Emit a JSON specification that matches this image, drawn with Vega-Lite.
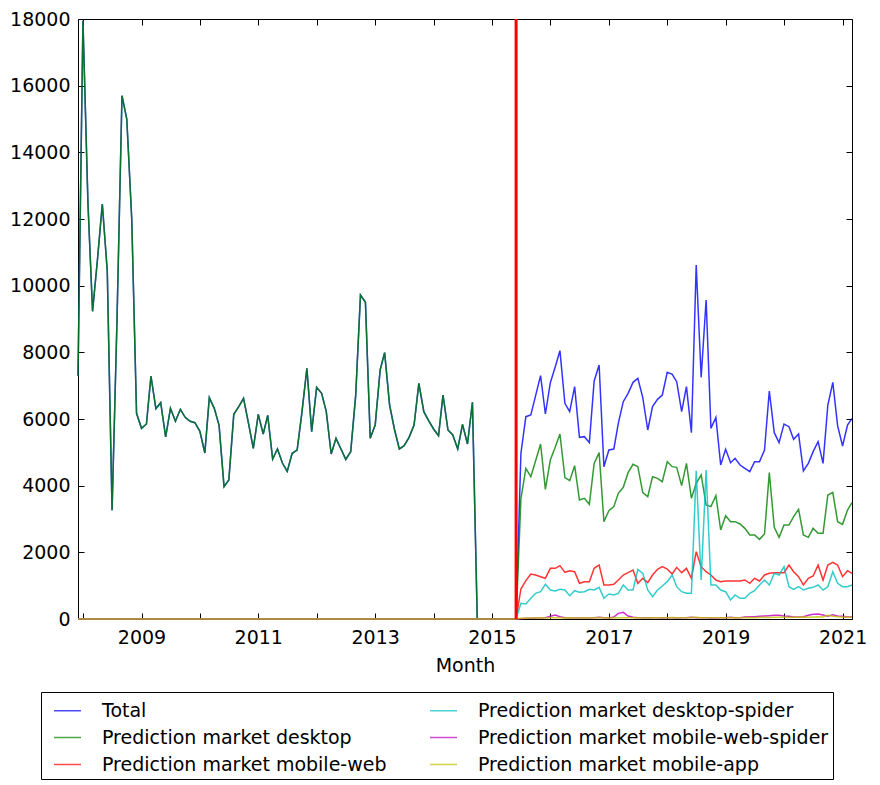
{
  "$schema": "https://vega.github.io/schema/vega-lite/v6.json",
  "width": 774,
  "height": 600,
  "autosize": "none",
  "padding": {"left": 78, "top": 19, "right": 28, "bottom": 166},
  "config": {
    "font": "DejaVu Sans",
    "view": {"stroke": "black", "strokeWidth": 1},
    "axis": {
      "domain": false,
      "grid": false,
      "tickColor": "black",
      "tickSize": -6,
      "labelColor": "black",
      "labelFontSize": 19,
      "titleFontSize": 19,
      "titleFontWeight": "normal",
      "titleColor": "black"
    }
  },
  "datasets": {
    "views": [
      {"m":"2007-12-01","t":7300,"d":7300,"w":0,"s":0,"ws":0,"a":0},
      {"m":"2008-01-01","t":17950,"d":17950,"w":0,"s":0,"ws":0,"a":0},
      {"m":"2008-02-01","t":12500,"d":12500,"w":0,"s":0,"ws":0,"a":0},
      {"m":"2008-03-01","t":9230,"d":9230,"w":0,"s":0,"ws":0,"a":0},
      {"m":"2008-04-01","t":10800,"d":10800,"w":0,"s":0,"ws":0,"a":0},
      {"m":"2008-05-01","t":12450,"d":12450,"w":0,"s":0,"ws":0,"a":0},
      {"m":"2008-06-01","t":10440,"d":10440,"w":0,"s":0,"ws":0,"a":0},
      {"m":"2008-07-01","t":3260,"d":3260,"w":0,"s":0,"ws":0,"a":0},
      {"m":"2008-08-01","t":9000,"d":9000,"w":0,"s":0,"ws":0,"a":0},
      {"m":"2008-09-01","t":15700,"d":15700,"w":0,"s":0,"ws":0,"a":0},
      {"m":"2008-10-01","t":15000,"d":15000,"w":0,"s":0,"ws":0,"a":0},
      {"m":"2008-11-01","t":12000,"d":12000,"w":0,"s":0,"ws":0,"a":0},
      {"m":"2008-12-01","t":6170,"d":6170,"w":0,"s":0,"ws":0,"a":0},
      {"m":"2009-01-01","t":5720,"d":5720,"w":0,"s":0,"ws":0,"a":0},
      {"m":"2009-02-01","t":5850,"d":5850,"w":0,"s":0,"ws":0,"a":0},
      {"m":"2009-03-01","t":7290,"d":7290,"w":0,"s":0,"ws":0,"a":0},
      {"m":"2009-04-01","t":6310,"d":6310,"w":0,"s":0,"ws":0,"a":0},
      {"m":"2009-05-01","t":6490,"d":6490,"w":0,"s":0,"ws":0,"a":0},
      {"m":"2009-06-01","t":5460,"d":5460,"w":0,"s":0,"ws":0,"a":0},
      {"m":"2009-07-01","t":6320,"d":6320,"w":0,"s":0,"ws":0,"a":0},
      {"m":"2009-08-01","t":5930,"d":5930,"w":0,"s":0,"ws":0,"a":0},
      {"m":"2009-09-01","t":6290,"d":6290,"w":0,"s":0,"ws":0,"a":0},
      {"m":"2009-10-01","t":6050,"d":6050,"w":0,"s":0,"ws":0,"a":0},
      {"m":"2009-11-01","t":5930,"d":5930,"w":0,"s":0,"ws":0,"a":0},
      {"m":"2009-12-01","t":5890,"d":5890,"w":0,"s":0,"ws":0,"a":0},
      {"m":"2010-01-01","t":5630,"d":5630,"w":0,"s":0,"ws":0,"a":0},
      {"m":"2010-02-01","t":4980,"d":4980,"w":0,"s":0,"ws":0,"a":0},
      {"m":"2010-03-01","t":6640,"d":6640,"w":0,"s":0,"ws":0,"a":0},
      {"m":"2010-04-01","t":6320,"d":6320,"w":0,"s":0,"ws":0,"a":0},
      {"m":"2010-05-01","t":5810,"d":5810,"w":0,"s":0,"ws":0,"a":0},
      {"m":"2010-06-01","t":3970,"d":3970,"w":0,"s":0,"ws":0,"a":0},
      {"m":"2010-07-01","t":4170,"d":4170,"w":0,"s":0,"ws":0,"a":0},
      {"m":"2010-08-01","t":6140,"d":6140,"w":0,"s":0,"ws":0,"a":0},
      {"m":"2010-09-01","t":6370,"d":6370,"w":0,"s":0,"ws":0,"a":0},
      {"m":"2010-10-01","t":6620,"d":6620,"w":0,"s":0,"ws":0,"a":0},
      {"m":"2010-11-01","t":5870,"d":5870,"w":0,"s":0,"ws":0,"a":0},
      {"m":"2010-12-01","t":5120,"d":5120,"w":0,"s":0,"ws":0,"a":0},
      {"m":"2011-01-01","t":6140,"d":6140,"w":0,"s":0,"ws":0,"a":0},
      {"m":"2011-02-01","t":5550,"d":5550,"w":0,"s":0,"ws":0,"a":0},
      {"m":"2011-03-01","t":6110,"d":6110,"w":0,"s":0,"ws":0,"a":0},
      {"m":"2011-04-01","t":4800,"d":4800,"w":0,"s":0,"ws":0,"a":0},
      {"m":"2011-05-01","t":5100,"d":5100,"w":0,"s":0,"ws":0,"a":0},
      {"m":"2011-06-01","t":4680,"d":4680,"w":0,"s":0,"ws":0,"a":0},
      {"m":"2011-07-01","t":4430,"d":4430,"w":0,"s":0,"ws":0,"a":0},
      {"m":"2011-08-01","t":4970,"d":4970,"w":0,"s":0,"ws":0,"a":0},
      {"m":"2011-09-01","t":5070,"d":5070,"w":0,"s":0,"ws":0,"a":0},
      {"m":"2011-10-01","t":6200,"d":6200,"w":0,"s":0,"ws":0,"a":0},
      {"m":"2011-11-01","t":7520,"d":7520,"w":0,"s":0,"ws":0,"a":0},
      {"m":"2011-12-01","t":5620,"d":5620,"w":0,"s":0,"ws":0,"a":0},
      {"m":"2012-01-01","t":6950,"d":6950,"w":0,"s":0,"ws":0,"a":0},
      {"m":"2012-02-01","t":6770,"d":6770,"w":0,"s":0,"ws":0,"a":0},
      {"m":"2012-03-01","t":6230,"d":6230,"w":0,"s":0,"ws":0,"a":0},
      {"m":"2012-04-01","t":4950,"d":4950,"w":0,"s":0,"ws":0,"a":0},
      {"m":"2012-05-01","t":5420,"d":5420,"w":0,"s":0,"ws":0,"a":0},
      {"m":"2012-06-01","t":5100,"d":5100,"w":0,"s":0,"ws":0,"a":0},
      {"m":"2012-07-01","t":4790,"d":4790,"w":0,"s":0,"ws":0,"a":0},
      {"m":"2012-08-01","t":5020,"d":5020,"w":0,"s":0,"ws":0,"a":0},
      {"m":"2012-09-01","t":6700,"d":6700,"w":0,"s":0,"ws":0,"a":0},
      {"m":"2012-10-01","t":9720,"d":9720,"w":0,"s":0,"ws":0,"a":0},
      {"m":"2012-11-01","t":9500,"d":9500,"w":0,"s":0,"ws":0,"a":0},
      {"m":"2012-12-01","t":5420,"d":5420,"w":0,"s":0,"ws":0,"a":0},
      {"m":"2013-01-01","t":5820,"d":5820,"w":0,"s":0,"ws":0,"a":0},
      {"m":"2013-02-01","t":7470,"d":7470,"w":0,"s":0,"ws":0,"a":0},
      {"m":"2013-03-01","t":7990,"d":7990,"w":0,"s":0,"ws":0,"a":0},
      {"m":"2013-04-01","t":6420,"d":6420,"w":0,"s":0,"ws":0,"a":0},
      {"m":"2013-05-01","t":5700,"d":5700,"w":0,"s":0,"ws":0,"a":0},
      {"m":"2013-06-01","t":5100,"d":5100,"w":0,"s":0,"ws":0,"a":0},
      {"m":"2013-07-01","t":5200,"d":5200,"w":0,"s":0,"ws":0,"a":0},
      {"m":"2013-08-01","t":5450,"d":5450,"w":0,"s":0,"ws":0,"a":0},
      {"m":"2013-09-01","t":5820,"d":5820,"w":0,"s":0,"ws":0,"a":0},
      {"m":"2013-10-01","t":7070,"d":7070,"w":0,"s":0,"ws":0,"a":0},
      {"m":"2013-11-01","t":6220,"d":6220,"w":0,"s":0,"ws":0,"a":0},
      {"m":"2013-12-01","t":5950,"d":5950,"w":0,"s":0,"ws":0,"a":0},
      {"m":"2014-01-01","t":5700,"d":5700,"w":0,"s":0,"ws":0,"a":0},
      {"m":"2014-02-01","t":5500,"d":5500,"w":0,"s":0,"ws":0,"a":0},
      {"m":"2014-03-01","t":6720,"d":6720,"w":0,"s":0,"ws":0,"a":0},
      {"m":"2014-04-01","t":5670,"d":5670,"w":0,"s":0,"ws":0,"a":0},
      {"m":"2014-05-01","t":5520,"d":5520,"w":0,"s":0,"ws":0,"a":0},
      {"m":"2014-06-01","t":5100,"d":5100,"w":0,"s":0,"ws":0,"a":0},
      {"m":"2014-07-01","t":5840,"d":5840,"w":0,"s":0,"ws":0,"a":0},
      {"m":"2014-08-01","t":5250,"d":5250,"w":0,"s":0,"ws":0,"a":0},
      {"m":"2014-09-01","t":6500,"d":6500,"w":0,"s":0,"ws":0,"a":0},
      {"m":"2014-10-01","t":0,"d":0,"w":0,"s":0,"ws":0,"a":0},
      {"m":"2014-11-01","t":0,"d":0,"w":0,"s":0,"ws":0,"a":0},
      {"m":"2014-12-01","t":0,"d":0,"w":0,"s":0,"ws":0,"a":0},
      {"m":"2015-01-01","t":0,"d":0,"w":0,"s":0,"ws":0,"a":0},
      {"m":"2015-02-01","t":0,"d":0,"w":0,"s":0,"ws":0,"a":0},
      {"m":"2015-03-01","t":0,"d":0,"w":0,"s":0,"ws":0,"a":0},
      {"m":"2015-04-01","t":0,"d":0,"w":0,"s":0,"ws":0,"a":0},
      {"m":"2015-05-01","t":0,"d":0,"w":0,"s":0,"ws":0,"a":0},
      {"m":"2015-06-01","t":0,"d":0,"w":0,"s":0,"ws":0,"a":0},
      {"m":"2015-07-01","t":4970,"d":3600,"w":900,"s":470,"ws":10,"a":20},
      {"m":"2015-08-01","t":6070,"d":4520,"w":1150,"s":450,"ws":20,"a":25},
      {"m":"2015-09-01","t":6120,"d":4270,"w":1350,"s":620,"ws":20,"a":30},
      {"m":"2015-10-01","t":6700,"d":4750,"w":1320,"s":770,"ws":30,"a":30},
      {"m":"2015-11-01","t":7300,"d":5250,"w":1270,"s":820,"ws":30,"a":35},
      {"m":"2015-12-01","t":6150,"d":3890,"w":1220,"s":1040,"ws":40,"a":30},
      {"m":"2016-01-01","t":7090,"d":4770,"w":1520,"s":870,"ws":80,"a":35},
      {"m":"2016-02-01","t":7570,"d":5160,"w":1520,"s":840,"ws":120,"a":40},
      {"m":"2016-03-01","t":8050,"d":5550,"w":1600,"s":890,"ws":70,"a":35},
      {"m":"2016-04-01","t":6470,"d":4240,"w":1400,"s":870,"ws":40,"a":30},
      {"m":"2016-05-01","t":6220,"d":4150,"w":1450,"s":700,"ws":30,"a":35},
      {"m":"2016-06-01","t":6970,"d":4600,"w":1420,"s":850,"ws":30,"a":30},
      {"m":"2016-07-01","t":5450,"d":3570,"w":1070,"s":800,"ws":30,"a":30},
      {"m":"2016-08-01","t":5470,"d":3620,"w":1120,"s":820,"ws":30,"a":35},
      {"m":"2016-09-01","t":5290,"d":3440,"w":1120,"s":890,"ws":30,"a":30},
      {"m":"2016-10-01","t":7140,"d":4670,"w":1520,"s":870,"ws":40,"a":35},
      {"m":"2016-11-01","t":7620,"d":4990,"w":1620,"s":950,"ws":50,"a":40},
      {"m":"2016-12-01","t":4570,"d":2920,"w":1020,"s":620,"ws":40,"a":35},
      {"m":"2017-01-01","t":5070,"d":3250,"w":1020,"s":750,"ws":30,"a":30},
      {"m":"2017-02-01","t":5100,"d":3370,"w":1040,"s":720,"ws":60,"a":30},
      {"m":"2017-03-01","t":5870,"d":3770,"w":1170,"s":770,"ws":170,"a":35},
      {"m":"2017-04-01","t":6520,"d":3950,"w":1320,"s":1020,"ws":200,"a":40},
      {"m":"2017-05-01","t":6770,"d":4390,"w":1390,"s":870,"ws":90,"a":40},
      {"m":"2017-06-01","t":7100,"d":4640,"w":1470,"s":870,"ws":50,"a":35},
      {"m":"2017-07-01","t":7220,"d":4570,"w":1070,"s":1490,"ws":40,"a":35},
      {"m":"2017-08-01","t":6640,"d":3790,"w":1220,"s":1370,"ws":40,"a":30},
      {"m":"2017-09-01","t":5670,"d":3670,"w":1090,"s":870,"ws":30,"a":30},
      {"m":"2017-10-01","t":6370,"d":4270,"w":1320,"s":670,"ws":40,"a":35},
      {"m":"2017-11-01","t":6590,"d":4220,"w":1490,"s":870,"ws":40,"a":40},
      {"m":"2017-12-01","t":6720,"d":4120,"w":1570,"s":990,"ws":30,"a":40},
      {"m":"2018-01-01","t":7400,"d":4720,"w":1500,"s":1120,"ws":40,"a":40},
      {"m":"2018-02-01","t":7340,"d":4570,"w":1350,"s":1320,"ws":40,"a":45},
      {"m":"2018-03-01","t":7120,"d":4550,"w":1550,"s":970,"ws":30,"a":40},
      {"m":"2018-04-01","t":6220,"d":4000,"w":1390,"s":820,"ws":40,"a":35},
      {"m":"2018-05-01","t":6970,"d":4670,"w":1520,"s":770,"ws":40,"a":40},
      {"m":"2018-06-01","t":5590,"d":3620,"w":1220,"s":770,"ws":50,"a":45},
      {"m":"2018-07-01","t":10620,"d":4070,"w":2020,"s":4450,"ws":40,"a":50},
      {"m":"2018-08-01","t":7250,"d":4320,"w":1570,"s":1170,"ws":40,"a":40},
      {"m":"2018-09-01","t":9570,"d":3420,"w":1420,"s":4470,"ws":40,"a":40},
      {"m":"2018-10-01","t":5720,"d":3370,"w":1320,"s":1020,"ws":30,"a":35},
      {"m":"2018-11-01","t":6050,"d":3700,"w":1170,"s":1020,"ws":30,"a":35},
      {"m":"2018-12-01","t":4620,"d":2670,"w":1120,"s":870,"ws":40,"a":40},
      {"m":"2019-01-01","t":5090,"d":3100,"w":1140,"s":820,"ws":40,"a":40},
      {"m":"2019-02-01","t":4690,"d":2920,"w":1140,"s":570,"ws":50,"a":35},
      {"m":"2019-03-01","t":4820,"d":2920,"w":1140,"s":720,"ws":40,"a":35},
      {"m":"2019-04-01","t":4620,"d":2850,"w":1140,"s":620,"ws":40,"a":40},
      {"m":"2019-05-01","t":4520,"d":2720,"w":1170,"s":620,"ws":60,"a":40},
      {"m":"2019-06-01","t":4420,"d":2520,"w":1070,"s":770,"ws":70,"a":45},
      {"m":"2019-07-01","t":4720,"d":2520,"w":1220,"s":850,"ws":70,"a":40},
      {"m":"2019-08-01","t":4720,"d":2390,"w":1140,"s":1020,"ws":80,"a":45},
      {"m":"2019-09-01","t":5070,"d":2550,"w":1320,"s":1170,"ws":90,"a":50},
      {"m":"2019-10-01","t":6840,"d":4390,"w":1370,"s":1020,"ws":100,"a":45},
      {"m":"2019-11-01","t":5590,"d":2750,"w":1390,"s":1370,"ws":110,"a":50},
      {"m":"2019-12-01","t":5290,"d":2450,"w":1390,"s":1320,"ws":110,"a":55},
      {"m":"2020-01-01","t":5850,"d":2820,"w":1390,"s":1570,"ws":90,"a":50},
      {"m":"2020-02-01","t":5770,"d":2820,"w":1620,"s":970,"ws":80,"a":45},
      {"m":"2020-03-01","t":5390,"d":3070,"w":1420,"s":890,"ws":60,"a":50},
      {"m":"2020-04-01","t":5550,"d":3290,"w":1270,"s":970,"ws":60,"a":55},
      {"m":"2020-05-01","t":4440,"d":2520,"w":1020,"s":870,"ws":70,"a":60},
      {"m":"2020-06-01","t":4670,"d":2450,"w":1220,"s":920,"ws":110,"a":55},
      {"m":"2020-07-01","t":5020,"d":2720,"w":1290,"s":950,"ws":140,"a":60},
      {"m":"2020-08-01","t":5320,"d":2570,"w":1620,"s":1020,"ws":150,"a":65},
      {"m":"2020-09-01","t":4670,"d":2570,"w":1170,"s":870,"ws":120,"a":60},
      {"m":"2020-10-01","t":6420,"d":3720,"w":1620,"s":970,"ws":80,"a":110},
      {"m":"2020-11-01","t":7100,"d":3800,"w":1700,"s":1420,"ws":130,"a":80},
      {"m":"2020-12-01","t":5800,"d":2920,"w":1620,"s":1070,"ws":90,"a":70},
      {"m":"2021-01-01","t":5190,"d":2840,"w":1270,"s":970,"ws":80,"a":60},
      {"m":"2021-02-01","t":5820,"d":3270,"w":1450,"s":970,"ws":60,"a":55},
      {"m":"2021-03-01","t":6020,"d":3490,"w":1370,"s":1020,"ws":70,"a":60}
    ],
    "marker": [{"m": "2015-06-01"}]
  },
  "layer": [
    {
      "data": {"name": "views"},
      "transform": [{"fold": ["t", "d", "w", "s", "ws", "a"], "as": ["series", "views"]}],
      "mark": {"type": "line", "strokeWidth": 1.5, "opacity": 0.8},
      "encoding": {
        "x": {
          "field": "m",
          "type": "temporal",
          "scale": {"domain": [{"year": 2007, "month": 12, "date": 1, "utc": true}, {"year": 2021, "month": 3, "date": 1, "utc": true}]},
          "axis": {
            "title": "Month",
            "titlePadding": 9,
            "labelPadding": 15,
            "values": [
              {"year": 2008, "utc": true}, {"year": 2009, "utc": true}, {"year": 2010, "utc": true},
              {"year": 2011, "utc": true}, {"year": 2012, "utc": true}, {"year": 2013, "utc": true},
              {"year": 2014, "utc": true}, {"year": 2015, "utc": true}, {"year": 2016, "utc": true},
              {"year": 2017, "utc": true}, {"year": 2018, "utc": true}, {"year": 2019, "utc": true},
              {"year": 2020, "utc": true}, {"year": 2021, "utc": true}
            ],
            "labelExpr": "utcyear(datum.value) % 2 == 1 ? utcFormat(datum.value, '%Y') : ''"
          }
        },
        "y": {
          "field": "views",
          "type": "quantitative",
          "scale": {"domain": [0, 18000], "nice": false},
          "axis": {"title": null, "values": [0, 2000, 4000, 6000, 8000, 10000, 12000, 14000, 16000, 18000], "labelPadding": 14, "format": "d"}
        },
        "color": {
          "field": "series",
          "type": "nominal",
          "scale": {
            "domain": ["t", "d", "w", "s", "ws", "a"],
            "range": ["#0000ff", "#008000", "#ff0000", "#00bfbf", "#bf00bf", "#bfbf00"]
          },
          "legend": {
            "title": null,
            "orient": "none",
            "legendX": -37,
            "legendY": 673,
            "columns": 2,
            "columnPadding": 34,
            "rowPadding": 2,
            "padding": 4,
            "symbolOffset": 8,
            "strokeColor": "black",
            "fillColor": "white",
            "symbolType": "stroke",
            "symbolSize": 729,
            "symbolStrokeWidth": 1.5,
            "symbolOpacity": 0.7,
            "labelFontSize": 19,
            "labelColor": "black",
            "labelOffset": 20,
            "labelLimit": 0,
            "labelExpr": "datum.label == 't' ? 'Total' : datum.label == 'd' ? 'Prediction market desktop' : datum.label == 'w' ? 'Prediction market mobile-web' : datum.label == 's' ? 'Prediction market desktop-spider' : datum.label == 'ws' ? 'Prediction market mobile-web-spider' : 'Prediction market mobile-app'"
          }
        }
      }
    },
    {
      "data": {"name": "marker"},
      "mark": {"type": "rule", "color": "#ff0000", "strokeWidth": 3},
      "encoding": {
        "x": {
          "field": "m",
          "type": "temporal",
          "axis": {
            "orient": "top",
            "title": null,
            "labels": false,
            "values": [
              {"year": 2008, "utc": true}, {"year": 2009, "utc": true}, {"year": 2010, "utc": true},
              {"year": 2011, "utc": true}, {"year": 2012, "utc": true}, {"year": 2013, "utc": true},
              {"year": 2014, "utc": true}, {"year": 2015, "utc": true}, {"year": 2016, "utc": true},
              {"year": 2017, "utc": true}, {"year": 2018, "utc": true}, {"year": 2019, "utc": true},
              {"year": 2020, "utc": true}, {"year": 2021, "utc": true}
            ]
          }
        },
        "y": {"datum": 0, "type": "quantitative", "axis": {"orient": "right", "title": null, "labels": false, "values": [0, 2000, 4000, 6000, 8000, 10000, 12000, 14000, 16000, 18000]}},
        "y2": {"datum": 18000}
      }
    }
  ],
  "resolve": {"axis": {"x": "independent", "y": "independent"}}
}
